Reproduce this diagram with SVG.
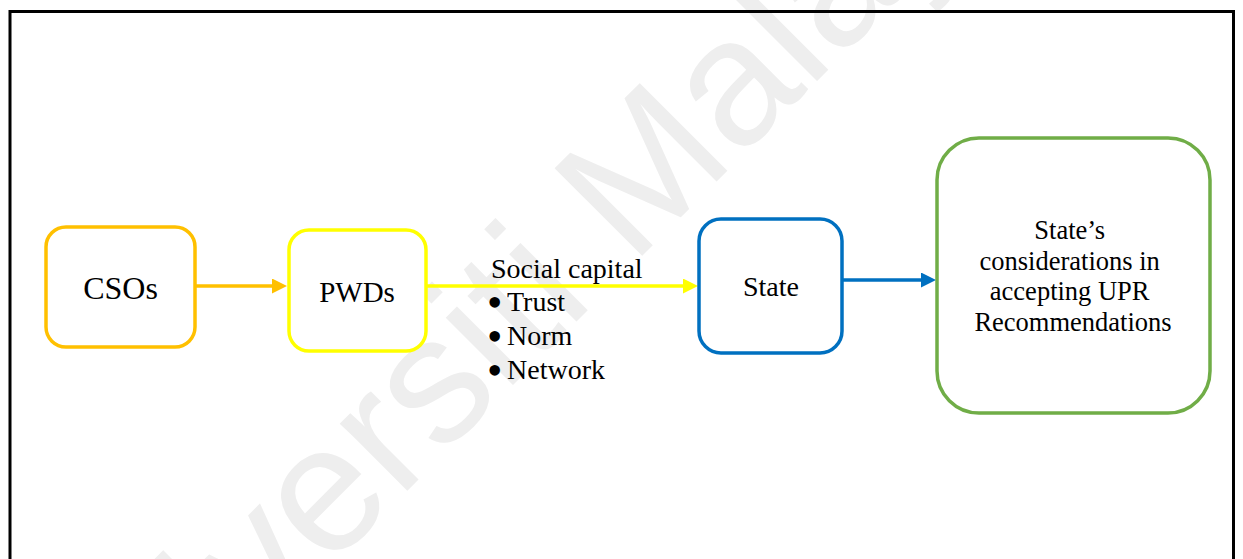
<svg xmlns="http://www.w3.org/2000/svg" width="1243" height="559" viewBox="0 0 1243 559">
  <style>
    .box { fill: #ffffff; stroke-width: 3.5; }
    .lbl { font-family: "Liberation Serif", "Times New Roman", serif; fill: #000000; }
    .bul { font-size: 44px; }
    .wm { font-family: "Liberation Sans", Arial, sans-serif; fill: #eeeeee; font-size: 180px; }
    .conn { fill: none; stroke-width: 3.5; }
  </style>
  <defs>
    <marker id="ahOrange" markerUnits="userSpaceOnUse" markerWidth="16" markerHeight="16" refX="11" refY="7.5" orient="auto">
      <path d="M0,0 L15,7.5 L0,15 Z" fill="#FFC000"/>
    </marker>
    <marker id="ahYellow" markerUnits="userSpaceOnUse" markerWidth="16" markerHeight="16" refX="11" refY="7.5" orient="auto">
      <path d="M0,0 L15,7.5 L0,15 Z" fill="#FFFF00"/>
    </marker>
    <marker id="ahBlue" markerUnits="userSpaceOnUse" markerWidth="16" markerHeight="16" refX="11" refY="7.5" orient="auto">
      <path d="M0,0 L15,7.5 L0,15 Z" fill="#0070C0"/>
    </marker>
  </defs>

  <rect x="0" y="0" width="1243" height="559" fill="#ffffff"/>

  <g id="watermark">
    <text class="wm" transform="translate(73,825) rotate(-45)">Universiti Malaya</text>
  </g>

  <g id="frame">
    <rect x="10" y="11.5" width="1223.5" height="620" fill="none" stroke="#000000" stroke-width="3"/>
  </g>

  <g id="connectors">
    <line class="conn" x1="195" y1="286" x2="283" y2="286" stroke="#FFC000" marker-end="url(#ahOrange)"/>
    <line class="conn" x1="426" y1="286" x2="694" y2="286" stroke="#FFFF00" marker-end="url(#ahYellow)"/>
    <line class="conn" x1="842" y1="280" x2="932" y2="280" stroke="#0070C0" marker-end="url(#ahBlue)"/>
  </g>

  <g id="node-csos">
    <rect class="box" x="46" y="227" width="149" height="120" rx="20" ry="20" stroke="#FFC000"/>
    <text class="lbl" x="120.5" y="299" font-size="32" text-anchor="middle">CSOs</text>
  </g>

  <g id="node-pwds">
    <rect class="box" x="289" y="230" width="137" height="121" rx="20" ry="20" stroke="#FFFF00"/>
    <text class="lbl" x="357" y="301.5" font-size="29" text-anchor="middle">PWDs</text>
  </g>

  <g id="label-social-capital">
    <text class="lbl" x="491" y="278" font-size="28">Social capital</text>
    <text class="lbl" font-size="28"><tspan class="bul" x="487" y="317">•</tspan><tspan x="507" y="311">Trust</tspan></text>
    <text class="lbl" font-size="28"><tspan class="bul" x="487" y="351">•</tspan><tspan x="507" y="345">Norm</tspan></text>
    <text class="lbl" font-size="28"><tspan class="bul" x="487" y="385">•</tspan><tspan x="507" y="379">Network</tspan></text>
  </g>

  <g id="node-state">
    <rect class="box" x="699" y="219" width="143" height="134" rx="22" ry="22" stroke="#0070C0"/>
    <text class="lbl" x="771" y="296" font-size="28" text-anchor="middle">State</text>
  </g>

  <g id="node-considerations">
    <rect class="box" x="937" y="138" width="273" height="275" rx="42" ry="42" stroke="#70AD47"/>
    <text class="lbl" font-size="26.5" text-anchor="middle">
      <tspan x="1073" y="239">State’s</tspan>
      <tspan x="1073" y="270">considerations in</tspan>
      <tspan x="1073" y="300">accepting UPR</tspan>
      <tspan x="1073" y="331">Recommendations</tspan>
    </text>
  </g>
</svg>
